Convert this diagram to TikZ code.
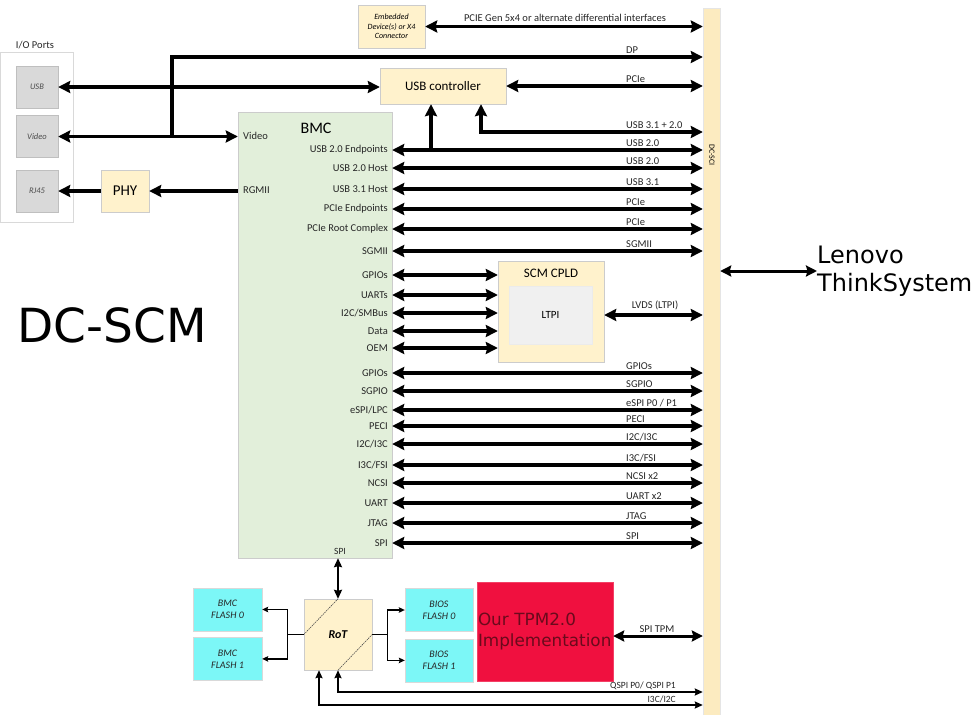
\documentclass[tikz,border=0pt]{standalone}
\usepackage{fontspec}
\setmainfont{Carlito}
\newfontfamily\verdana{DejaVu Sans}
\usepackage{tikz}
\usetikzlibrary{arrows.meta, positioning, calc}
\definecolor{boxyellow}{HTML}{FFF2CC}
\definecolor{baryellow}{HTML}{FCEBC0}
\definecolor{bmcgreen}{HTML}{E2EFDA}
\definecolor{portgray}{HTML}{D9D9D9}
\definecolor{flashcyan}{HTML}{7CF7F7}
\definecolor{tpmred}{HTML}{F0103F}
\definecolor{tpmtext}{HTML}{6A0A1C}
\tikzset{
  ioframe/.style={rectangle, draw=black!15, inner sep=0pt},
  port/.style={rectangle, draw=black!25, fill=portgray, minimum width=42pt, minimum height=42pt, inner sep=0pt, text=black!70, font=\fontsize{8.5}{9}\selectfont\itshape},
  block/.style={rectangle, draw=black!20, fill=boxyellow, inner sep=0pt, text centered},
  bmcbox/.style={rectangle, draw=black!20, fill=bmcgreen, inner sep=0pt},
  flash/.style={rectangle, draw=black!15, fill=flashcyan, minimum width=69pt, minimum height=43pt, inner sep=0pt, align=center, text=black!85, font=\fontsize{10}{12}\selectfont\itshape},
  sig/.style={inner sep=1pt, text=black!85, font=\fontsize{10.5}{12}\selectfont},
  small/.style={inner sep=1pt, text=black!85, font=\fontsize{9.5}{10}\selectfont},
  bus/.style={line width=3.5pt, {Stealth[length=12pt,width=12pt,inset=1.5pt]}-{Stealth[length=12pt,width=12pt,inset=1.5pt]}},
  busto/.style={line width=3.5pt, -{Stealth[length=12pt,width=12pt,inset=1.5pt]}},
  midbus/.style={line width=2pt, {Stealth[length=8pt,width=7pt,inset=1pt]}-{Stealth[length=8pt,width=7pt,inset=1pt]}},
  wire/.style={line width=1.2pt},
  wireto/.style={line width=1.2pt, -{Stealth[length=6pt,width=5.5pt,inset=1pt]}},
  diag/.style={line width=0.6pt, draw=black!70, dash pattern=on 1.5pt off 0.8pt}
}

\begin{document}
\begin{tikzpicture}[x=1pt, y=-1pt, node distance=6pt]
\useasboundingbox (0,0) rectangle (975,715);

% I/O ports
\node[ioframe, minimum width=73pt, minimum height=170pt, anchor=north west] (io) at (0,52) {};
\node[sig] (iolabel) at (35,45) {I/O Ports};
\node[port] (usbport) at (37,87) {USB};
\node[port] (vidport) at (37,136.5) {Video};
\node[port] (rjport) at (37,191) {RJ45};
\node[block, minimum width=48pt, minimum height=42pt, font=\fontsize{15}{17}\selectfont] (phy) at (125,191) {PHY};

% connector bar
\node[rectangle, fill=baryellow, draw=black!10, minimum width=17pt, minimum height=707pt, inner sep=0pt] (dcsci) at (711.5,361.5) {};
\node[rotate=-90, inner sep=0pt, font=\fontsize{8}{9}\selectfont] (dcscilabel) at (712,155) {DC-SCI};

% BMC
\node[bmcbox, minimum width=154pt, minimum height=446pt] (bmc) at (315,335) {};
\node[font=\fontsize{16}{18}\selectfont] (bmctitle) at (316,128) {BMC};
\node[sig, anchor=west] (bvideo) at (242,136) {Video};
\node[sig, anchor=west] (brgmii) at (242,190) {RGMII};
\node[small] (bspi) at (340,551) {SPI};

% top blocks
\node[block, minimum width=67pt, minimum height=43pt, align=center, font=\fontsize{8}{9.5}\selectfont\itshape] (emb) at (391.5,26.5) {Embedded\\Device(s) or X4\\Connector};
\node[block, minimum width=126pt, minimum height=36pt, font=\fontsize{13}{15}\selectfont] (usbctl) at (443,86) {USB controller};

\draw[bus] (emb.east) -- (dcsci.west |- emb.east);
\node[sig] (pcielabel) at (565,18) {PCIE Gen 5x4 or alternate differential interfaces};

\coordinate (dpjoin) at (172,136.5);
\coordinate (dpturn) at (172,57);
\draw[busto] (dpjoin) -- (dpturn) -- (dcsci.west |- dpturn);
\node[sig, anchor=south west] (dplabel) at (625,55) {DP};

\draw[bus] (usbport.east) -- (usbport.east -| usbctl.west);
\draw[bus] (usbctl.east) -- (dcsci.west |- usbctl.east);
\node[sig, anchor=south west] (ctlpcie) at (625,84) {PCIe};

\draw[bus] (vidport.east) -- (bmc.west |- vidport.east);
\draw[busto] (bmc.west |- phy) -- (phy.east);
\draw[busto] (phy.west) -- (rjport.east);

% BMC to DC-SCI
\foreach \y/\l/\r [count=\i] in {150/USB 2.0 Endpoints/USB 2.0, 168/USB 2.0 Host/USB 2.0, 189/USB 3.1 Host/USB 3.1,
    209/PCIe Endpoints/PCIe, 229/PCIe Root Complex/PCIe, 251/SGMII/SGMII, 373/GPIOs/GPIOs, 391/SGPIO/SGPIO,
    410/{eSPI/LPC}/{eSPI P0 / P1}, 426/PECI/PECI, 444/{I2C/I3C}/{I2C/I3C}, 465/{I3C/FSI}/{I3C/FSI},
    483/NCSI/NCSI x2, 503/UART/UART x2, 523/JTAG/JTAG, 543/SPI/SPI}{
  \node[sig, anchor=east] (bl\i) at (389,\y) {\l};
  \node[sig, anchor=south west] (br\i) at (625,\y-2) {\r};
  \draw[bus] (bmc.east |- bl\i) -- (dcsci.west |- bl\i);
}

\coordinate (ctlin) at ($(usbctl.south)+(-12,0)$);
\coordinate (ctlin2) at ($(usbctl.south)+(38,0)$);
\coordinate (u31) at (0,132);
\draw[busto] (ctlin |- bl1) -- (ctlin);
\draw[bus] (ctlin2) |- (dcsci.west |- u31);
\node[sig, anchor=south west] (u31label) at (625,130) {USB 3.1 + 2.0};

% SCM CPLD
\node[block, minimum width=106pt, minimum height=101pt] (cpld) at (551,311.5) {};
\node[font=\fontsize{13}{15}\selectfont] (cpldtitle) at (551,273) {SCM CPLD};
\node[rectangle, fill=black!6, draw=black!8, minimum width=83pt, minimum height=58pt, font=\fontsize{11}{13}\selectfont] (ltpi) at (550.5,315) {LTPI};
\foreach \y/\l [count=\i] in {275/GPIOs, 295/UARTs, 313/{I2C/SMBus}, 331/Data, 348/OEM}{
  \node[sig, anchor=east] (cl\i) at (389,\y) {\l};
  \draw[bus] (bmc.east |- cl\i) -- (cpld.west |- cl\i);
}
\draw[bus] (cpld.east |- ltpi) -- (dcsci.west |- ltpi);
\node[sig, anchor=south] (lvdslabel) at (655,311) {LVDS (LTPI)};

% host side
\node[anchor=west, align=left, inner sep=0pt, font=\verdana\fontsize{24}{28}\selectfont] (lenovo) at (817,271) {Lenovo\\ThinkSystem};
\draw[line width=3pt, {Stealth[length=11pt,width=11pt,inset=1.5pt]}-{Stealth[length=11pt,width=11pt,inset=1.5pt]}] (dcsci.east |- lenovo.west) -- (lenovo.west);
\node[font=\verdana\fontsize{47}{50}\selectfont] (dcscm) at (112,325) {DC-SCM};

% root of trust and flashes
\node[block, minimum width=68pt, minimum height=71pt, font=\fontsize{12}{14}\selectfont\bfseries\itshape] (rot) at (338,634.5) {RoT};
\draw[diag] (rot.west) -- (rot.north);
\draw[diag] (rot.south) -- (rot.east);
\node[flash] (bmcf0) at (227.5,609.5) {BMC\\FLASH 0};
\node[flash, below=6pt of bmcf0] (bmcf1) {BMC\\FLASH 1};
\node[flash, minimum width=68pt] (biosf0) at (439,610) {BIOS\\FLASH 0};
\node[flash, minimum width=68pt, below=7pt of biosf0] (biosf1) {BIOS\\FLASH 1};

\draw[line width=2.5pt, {Stealth[length=9pt,width=8pt,inset=1pt]}-{Stealth[length=9pt,width=8pt,inset=1pt]}] (rot.north) -- (rot.north |- bmc.south);

\coordinate (rotl) at ($(rot.west)+(-16,0)$);
\coordinate (rotr) at ($(rot.east)+(15,0)$);
\draw[wire] (rot.west) -- (rotl);
\draw[wireto] (rotl) |- (bmcf0.east);
\draw[wireto] (rotl) |- (bmcf1.east);
\draw[wire] (rot.east) -- (rotr);
\draw[wireto] (rotr) |- (biosf0.west);
\draw[wireto] (rotr) |- (biosf1.west);

% TPM
\node[rectangle, fill=tpmred, draw=tpmred!80!white, minimum width=136pt, minimum height=99pt, inner sep=0pt, text width=134pt, align=left, text=tpmtext, font=\verdana\fontsize{16.8}{21}\selectfont] (tpm) at (545,631.5) {Our TPM2.0\\Implementation};
\coordinate (tpmy) at (0,636);
\draw[line width=3pt, {Stealth[length=11pt,width=11pt,inset=1.5pt]}-{Stealth[length=11pt,width=11pt,inset=1.5pt]}] (tpm.east |- tpmy) -- (dcsci.west |- tpmy);
\node[sig, anchor=south] (spitpm) at (657,634) {SPI TPM};

\coordinate (qspiy) at (0,692);
\coordinate (i3cy) at (0,705);
\coordinate (i3cx) at ($(rot.south)+(-19,0)$);
\draw[midbus] (rot.south) |- (dcsci.west |- qspiy);
\draw[midbus] (i3cx) |- (dcsci.west |- i3cy);
\node[small, anchor=south east] (qspilabel) at (677,691) {QSPI P0/ QSPI P1};
\node[small, anchor=south east] (i3clabel) at (677,704) {I3C/I2C};
\end{tikzpicture}
\end{document}
